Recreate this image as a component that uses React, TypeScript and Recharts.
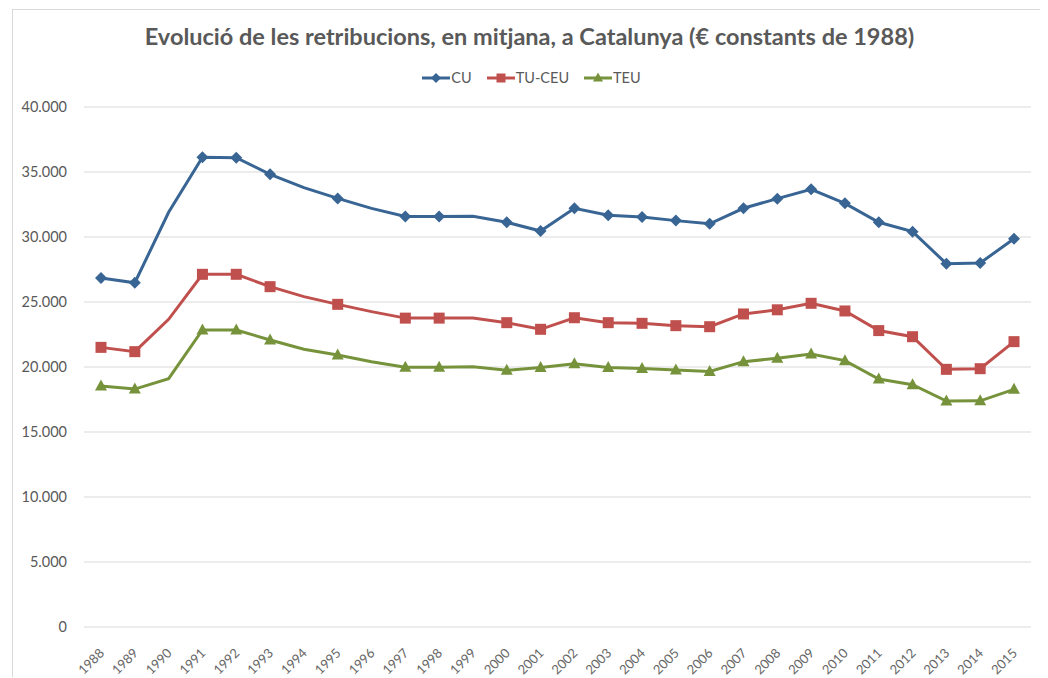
import React from "react";
import { LineChart, Line, XAxis, YAxis, CartesianGrid } from "recharts";

const years = [
  "1988", "1989", "1990", "1991", "1992", "1993", "1994", "1995", "1996", "1997",
  "1998", "1999", "2000", "2001", "2002", "2003", "2004", "2005", "2006", "2007",
  "2008", "2009", "2010", "2011", "2012", "2013", "2014", "2015",
];

const cu = [
  26850, 26480, 31900, 36130, 36100, 34820, 33800, 32970, 32200, 31580,
  31580, 31600, 31130, 30460, 32210, 31670, 31540, 31260, 31020, 32210,
  32950, 33670, 32590, 31130, 30410, 27950, 28000, 29870,
];

const tuCeu = [
  21510, 21180, 23670, 27130, 27130, 26180, 25410, 24820, 24260, 23760,
  23760, 23770, 23410, 22900, 23790, 23410, 23360, 23180, 23100, 24080,
  24400, 24900, 24310, 22800, 22330, 19820, 19870, 21950,
];

const teu = [
  18540, 18300, 19100, 22850, 22850, 22080, 21360, 20920, 20410, 19990,
  19990, 20020, 19750, 19970, 20250, 19970, 19880, 19770, 19650, 20410,
  20670, 21000, 20490, 19080, 18640, 17380, 17400, 18280,
];

// years drawn without a marker in the original
const noMarkerYears = ["1990", "1994", "1996", "1999"];

const yTicks = [0, 5000, 10000, 15000, 20000, 25000, 30000, 35000, 40000];

const seriesNames = ["CU", "TU-CEU", "TEU"];
const seriesColors = ["#386593", "#C0504D", "#76933C"];
const seriesShapes = ["diamond", "square", "triangle"];

const data = years.map((year, i) => ({
  year,
  CU: cu[i],
  "TU-CEU": tuCeu[i],
  TEU: teu[i],
}));

const FONT = "Lato, 'Open Sans', sans-serif";

const fmt = (v: number) =>
  String(v).replace(/\B(?=(\d{3})+(?!\d))/g, ".");

const Marker = ({ shape, cx, cy, color, r = 6 }: any) => {
  if (shape === "diamond")
    return (
      <polygon
        points={`${cx},${cy - r} ${cx + r},${cy} ${cx},${cy + r} ${cx - r},${cy}`}
        fill={color}
      />
    );
  if (shape === "square")
    return <rect x={cx - r + 0.5} y={cy - r + 0.5} width={2 * r - 1} height={2 * r - 1} fill={color} />;
  return (
    <polygon
      points={`${cx},${cy - r - 0.5} ${cx + r},${cy + r - 1.5} ${cx - r},${cy + r - 1.5}`}
      fill={color}
    />
  );
};

const makeDot = (shape: string, color: string) => (props: any) => {
  const { cx, cy, payload, index } = props;
  if (cx == null || cy == null || noMarkerYears.includes(payload.year))
    return <g key={`d-${shape}-${index}`} />;
  return (
    <g key={`d-${shape}-${index}`}>
      <Marker shape={shape} cx={cx} cy={cy} color={color} />
    </g>
  );
};

const YearTick = ({ x, y, payload }: any) => (
  <text
    x={x + 4}
    y={y + 19}
    transform={`rotate(-45 ${x + 4} ${y + 19})`}
    textAnchor="end"
    fill="#666666"
    fontSize={13}
    fontFamily={FONT}
  >
    {payload.value}
  </text>
);

const Legend = () => (
  <div
    style={{
      position: "absolute",
      top: 60,
      left: 2,
      width: "100%",
      display: "flex",
      justifyContent: "center",
      gap: 15,
      fontFamily: FONT,
      fontSize: 14.5,
      lineHeight: "16px",
      color: "#595959",
    }}
  >
    {seriesNames.map((name, i) => (
      <div key={name} style={{ display: "flex", alignItems: "center" }}>
        <svg width={28} height={14}>
          <line x1={0} y1={7} x2={28} y2={7} stroke={seriesColors[i]} strokeWidth={3} />
          <Marker shape={seriesShapes[i]} cx={14} cy={7} color={seriesColors[i]} r={5} />
        </svg>
        <span style={{ marginLeft: 1 }}>{name}</span>
      </div>
    ))}
  </div>
);

export default function App() {
  return (
    <div
      style={{
        position: "relative",
        marginLeft: 4,
        marginTop: 1,
        width: 1035,
        height: 668,
        border: "1px solid #d9d9d9",
        borderBottom: "none",
        boxSizing: "border-box",
        background: "#fff",
      }}
    >
      <div
        style={{
          position: "absolute",
          top: 12,
          left: 0,
          width: "100%",
          textAlign: "center",
          fontFamily: FONT,
          fontWeight: 700,
          fontSize: 23.5,
          color: "#595959",
        }}
      >
        Evolució de les retribucions, en mitjana, a Catalunya (€ constants de 1988)
      </div>
      <Legend />
      <LineChart
        width={1033}
        height={667}
        data={data}
        margin={{ top: 97, right: 15, bottom: 0, left: 0 }}
      >
        <CartesianGrid vertical={false} stroke="#d9d9d9" strokeWidth={1} />
        <XAxis
          dataKey="year"
          axisLine={false}
          tickLine={false}
          interval={0}
          height={50}
          padding={{ left: 17, right: 17 }}
          tick={<YearTick />}
        />
        <YAxis
          domain={[0, 40000]}
          ticks={yTicks}
          axisLine={false}
          tickLine={false}
          tickSize={0}
          tickMargin={17}
          width={71}
          tickFormatter={fmt}
          tick={{ fill: "#595959", fontSize: 14.5, fontFamily: FONT }}
        />
        {seriesNames.map((name, i) => (
          <Line
            key={name}
            type="linear"
            dataKey={name}
            stroke={seriesColors[i]}
            strokeWidth={3}
            dot={makeDot(seriesShapes[i], seriesColors[i])}
            activeDot={false}
            isAnimationActive={false}
          />
        ))}
      </LineChart>
    </div>
  );
}
